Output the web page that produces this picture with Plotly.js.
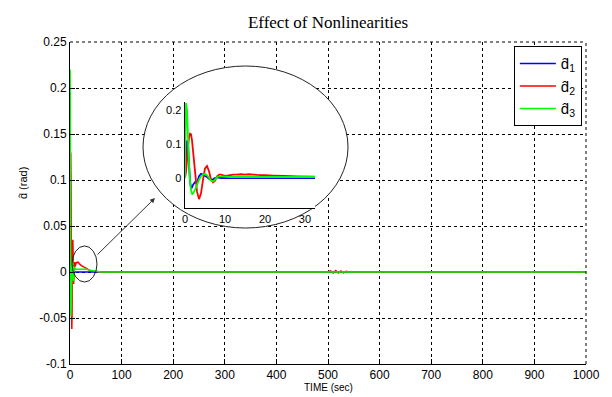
<!DOCTYPE html>
<html>
<head>
<meta charset="utf-8">
<script src="https://cdn.plot.ly/plotly-3.0.1.min.js"></script>
<style>html,body{margin:0;padding:0;background:#fff;}#chart{width:612px;height:397px;}</style>
</head>
<body>
<div id="chart"></div>
<script>
// time (sec)
const time = [0, 0.25, 0.5, 0.75, 1, 1.25, 1.5, 1.75, 2, 2.5, 3, 3.5, 4, 4.5, 5, 5.5, 6, 6.5, 7, 7.5, 8, 8.5, 9, 10, 11, 12, 13, 14, 15, 16, 17, 18, 20, 22, 25, 28, 32, 40, 60, 100, 200, 300, 400, 500, 505, 510, 515, 520, 525, 530, 535, 540, 600, 700, 800, 900, 1000];
// d1 estimate (blue)
const d1 = [0, 0.05, 0.11, 0.1, 0.04, -0.01, -0.03, -0.028, -0.02, -0.012, -0.015, 0.005, 0.012, 0.01, 0.006, 0.003, -0.002, -0.005, -0.004, 0, 0.002, 0.001, 0, 0, 0, 0, 0, 0, 0, 0, 0, 0, 0, 0, 0, 0, 0, 0, 0, 0, 0, 0, 0, 0, 0, 0, 0, 0, 0, 0, 0, 0, 0, 0, 0, 0, 0];
// d2 estimate (red)
const d2 = [0, 0.02, 0.05, 0.09, 0.12, 0.13, 0.128, 0.11, 0.08, 0.02, -0.04, -0.062, -0.045, -0.005, 0.028, 0.035, 0.02, -0.005, -0.013, -0.008, 0.004, 0.01, 0.01, 0.006, 0.008, 0.01, 0.01, 0.011, 0.01, 0.011, 0.01, 0.009, 0.008, 0.007, 0.006, 0.005, 0.004, 0.001, 0, 0, 0, 0, 0, 0, 0.0012, -0.0012, 0.0015, -0.0012, 0.0012, -0.0008, 0.0008, 0, 0, 0, 0, 0, 0];
// d3 estimate (green)
const d3 = [0, 0.22, 0.2, 0.12, 0.04, -0.01, -0.035, -0.048, -0.045, -0.035, -0.02, -0.005, 0.005, 0.01, 0.012, 0.008, 0, -0.008, -0.01, -0.005, 0.002, 0.005, 0.005, 0.004, 0.003, 0.003, 0.003, 0.003, 0.003, 0.003, 0.003, 0.003, 0.003, 0.003, 0.003, 0.003, 0.003, 0.002, 0, 0, 0, 0, 0, 0, 0, 0, 0, 0, 0, 0, 0, 0, 0, 0, 0, 0, 0];

const seriesNames = ['d\u0302<sub>1</sub>', 'd\u0302<sub>2</sub>', 'd\u0302<sub>3</sub>'];
const seriesColors = ['#0000ff', '#ff0000', '#00ff00'];
const seriesValues = [d1, d2, d3];

const xTicks = [0, 100, 200, 300, 400, 500, 600, 700, 800, 900, 1000];
const yTicks = [-0.1, -0.05, 0, 0.05, 0.1, 0.15, 0.2, 0.25];
const yTickText = ['-0.1', '-0.05', '0', '0.05', '0.1', '0.15', '0.2', '0.25'];
const insetXTicks = [0, 10, 20, 30];
const insetYTicks = [0, 0.1, 0.2];
const insetYTickText = ['0', '0.1', '0.2'];

const traces = [];
seriesValues.forEach((v, i) => {
  traces.push({x: time, y: v, type: 'scatter', mode: 'lines', name: seriesNames[i],
    line: {color: seriesColors[i], width: 1.5, simplify: false}, xaxis: 'x', yaxis: 'y'});
});
seriesValues.forEach((v, i) => {
  traces.push({x: time, y: v, type: 'scatter', mode: 'lines', showlegend: false,
    line: {color: seriesColors[i], width: 1.8, simplify: false}, xaxis: 'x2', yaxis: 'y2'});
});

const sans = 'Liberation Sans, Arial, sans-serif';
const tickFont = {family: sans, size: 12, color: '#000'};

const layout = {
  width: 612, height: 397,
  margin: {l: 70, r: 26, t: 42, b: 33},
  paper_bgcolor: '#fff', plot_bgcolor: '#fff',
  title: {text: 'Effect of Nonlinearities', x: 0.5, xref: 'paper', y: 0.96, yref: 'container',
    font: {family: 'Liberation Serif, Times New Roman, serif', size: 17, color: '#000'}},
  showlegend: true,
  legend: {x: 0.992, xanchor: 'right', y: 0.987, yanchor: 'top', bgcolor: '#fff',
    bordercolor: '#000', borderwidth: 1, font: {family: sans, size: 15, color: '#000'},
    tracegroupgap: 0, itemwidth: 36},
  xaxis: {range: [0, 1000], tickvals: xTicks, ticktext: xTicks.map(String), ticks: 'inside', ticklen: 5,
    tickcolor: '#000', showline: true, linecolor: '#000', linewidth: 1, showgrid: true,
    gridcolor: '#000', griddash: 'dot', gridwidth: 1, zeroline: false, tickfont: tickFont,
    domain: [0, 1], anchor: 'y'},
  yaxis: {range: [-0.1, 0.25], tickvals: yTicks, ticktext: yTickText, ticks: 'inside', ticklen: 5,
    tickcolor: '#000', showline: true, linecolor: '#000', linewidth: 1, showgrid: true,
    gridcolor: '#000', griddash: 'dot', gridwidth: 1, zeroline: false, tickfont: tickFont,
    domain: [0, 1], anchor: 'x'},
  xaxis2: {range: [0, 32.5], domain: [0.2229, 0.4748], anchor: 'y2', tickvals: insetXTicks,
    ticktext: insetXTicks.map(String), ticks: '', showline: true, linecolor: '#000', linewidth: 1.5,
    showgrid: false, zeroline: false, tickfont: {family: sans, size: 11, color: '#000'}},
  yaxis2: {range: [-0.088, 0.223], domain: [0.4845, 0.8137], anchor: 'x2', tickvals: insetYTicks,
    ticktext: insetYTickText, ticks: '', showline: true, linecolor: '#000', linewidth: 1.5,
    showgrid: false, zeroline: false, tickfont: {family: sans, size: 11, color: '#000'}},
  shapes: [
    {type: 'line', xref: 'paper', yref: 'paper', x0: 0, x1: 1, y0: 1, y1: 1, line: {color: '#000', width: 1, dash: 'dot'}},
    {type: 'line', xref: 'paper', yref: 'paper', x0: 1, x1: 1, y0: 0, y1: 1, line: {color: '#000', width: 1, dash: 'dot'}},
    {type: 'circle', xref: 'x', yref: 'y', x0: 141.5, x1: 538.8, y0: 0.0478, y1: 0.2239,
      fillcolor: '#fff', line: {color: '#222', width: 1}, layer: 'between'},
    {type: 'circle', xref: 'x', yref: 'y', x0: 3.9, x1: 52.3, y0: -0.0109, y1: 0.0283,
      line: {color: '#222', width: 1}, layer: 'above'}
  ],
  annotations: [
    {x: 164.7, y: 0.0804, xref: 'x', yref: 'y', ax: 50.4, ay: 0.0174, axref: 'x', ayref: 'y',
      showarrow: true, arrowhead: 2, arrowsize: 1, arrowwidth: 1, arrowcolor: '#333', text: ''},
    {text: 'TIME (sec)', xref: 'paper', yref: 'paper', x: 0.5, y: -0.0745, xanchor: 'center', yanchor: 'middle',
      showarrow: false, font: {family: sans, size: 10, color: '#000'}},
    {text: 'd\u0302 (rad)', xref: 'paper', yref: 'paper', x: -0.091, y: 0.562, xanchor: 'center', yanchor: 'middle',
      textangle: -90, showarrow: false, font: {family: sans, size: 11, color: '#000'}}
  ]
};

Plotly.newPlot('chart', traces, layout, {displayModeBar: false, staticPlot: true});
</script>
</body>
</html>
